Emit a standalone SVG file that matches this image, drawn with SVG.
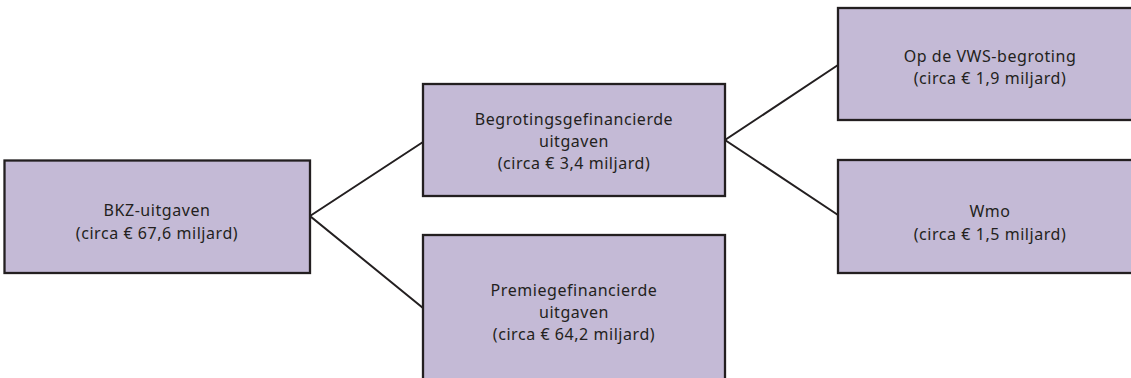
<svg xmlns="http://www.w3.org/2000/svg" width="1131" height="378" viewBox="0 0 1131 378">
<style>
.box{fill:#c4bad6;stroke:#231f20;stroke-width:2.3}
.t{font-family:"Noto Sans","Open Sans",sans-serif;font-size:16px;letter-spacing:0.55px;fill:#231f20;text-anchor:middle}
.c{fill:none;stroke:#231f20;stroke-width:2}
</style>
<rect width="1131" height="378" fill="#ffffff"/>
<g id="connectors">
<polyline class="c" points="423,142 310,216 423,308"/>
<polyline class="c" points="838,65 725,140 838,215"/>
</g>
<g id="bkz">
<rect class="box" x="4.5" y="160.5" width="305.5" height="112.5"/>
<text class="t"><tspan x="157" y="216">BKZ-uitgaven</tspan><tspan x="157" y="239">(circa € 67,6 miljard)</tspan></text>
</g>
<g id="begroting">
<rect class="box" x="423" y="84" width="302" height="112"/>
<text class="t"><tspan x="574" y="125">Begrotingsgefinancierde</tspan><tspan x="574" y="147">uitgaven</tspan><tspan x="574" y="169">(circa € 3,4 miljard)</tspan></text>
</g>
<g id="premie">
<rect class="box" x="423" y="235" width="302" height="160"/>
<text class="t"><tspan x="574" y="296">Premiegefinancierde</tspan><tspan x="574" y="318">uitgaven</tspan><tspan x="574" y="340">(circa € 64,2 miljard)</tspan></text>
</g>
<g id="vws">
<rect class="box" x="838" y="8" width="304" height="112"/>
<text class="t"><tspan x="990" y="62">Op de VWS-begroting</tspan><tspan x="990" y="84">(circa € 1,9 miljard)</tspan></text>
</g>
<g id="wmo">
<rect class="box" x="838" y="160" width="304" height="113"/>
<text class="t"><tspan x="990" y="217">Wmo</tspan><tspan x="990" y="240">(circa € 1,5 miljard)</tspan></text>
</g>
</svg>
